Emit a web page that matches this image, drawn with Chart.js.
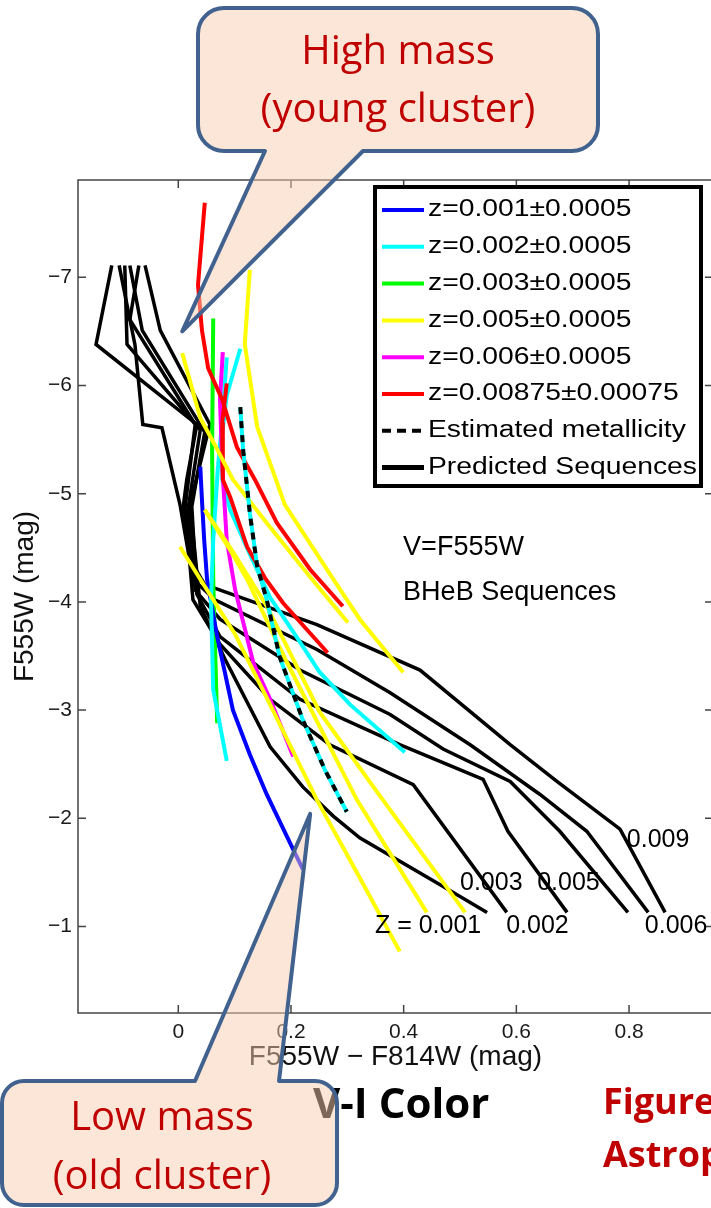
<!DOCTYPE html>
<html>
<head>
<meta charset="utf-8">
<script src="https://cdn.jsdelivr.net/npm/chart.js@4.4.1/dist/chart.umd.min.js"></script>
<style>
  html, body { margin: 0; padding: 0; background: #fff; overflow: hidden; width: 711px; height: 1208px; }
  #wrap { position: absolute; left: 0; top: 0; width: 730px; height: 1208px; }
</style>
</head>
<body>
<div id="wrap"><canvas id="cmd" width="730" height="1208"></canvas></div>
<script>
// axis ticks
const xTickValues = [0, 0.2, 0.4, 0.6, 0.8];
const yTickValues = [-7, -6, -5, -4, -3, -2, -1];

// legend
const legendLabels = [
  'z=0.001\u00b10.0005',
  'z=0.002\u00b10.0005',
  'z=0.003\u00b10.0005',
  'z=0.005\u00b10.0005',
  'z=0.006\u00b10.0005',
  'z=0.00875\u00b10.00075',
  'Estimated metallicity',
  'Predicted Sequences'
];
const legendColors = ['#0000ff', '#00ffff', '#00ff00', '#ffff00', '#ff00ff', '#ff0000', '#000000', '#000000'];

// observed BHeB sequences, [colour, magnitude]
const obsZ001 = [[0.039,-5.25],[0.042,-4.94],[0.046,-4.57],[0.051,-4.21],[0.069,-3.68],[0.097,-3.00],[0.127,-2.59],[0.157,-2.22],[0.204,-1.71],[0.221,-1.53]];
const obsZ002a = [[0.110,-6.34],[0.086,-5.91],[0.078,-5.56],[0.078,-5.13],[0.092,-4.85],[0.127,-4.44],[0.163,-4.04],[0.207,-3.70],[0.251,-3.35],[0.305,-3.05],[0.402,-2.61]];
const obsZ002b = [[0.086,-6.26],[0.078,-5.68],[0.070,-5.22],[0.062,-4.57],[0.058,-4.02],[0.062,-3.19],[0.086,-2.53]];
const obsZ003 = [[0.062,-6.62],[0.060,-5.41],[0.062,-4.21],[0.069,-2.88]];
const obsZ005a = [[0.127,-7.07],[0.118,-6.38],[0.140,-5.62],[0.189,-4.90],[0.275,-4.21],[0.322,-3.84],[0.399,-3.35]];
const obsZ005b = [[0.007,-6.30],[0.039,-5.70],[0.065,-5.45],[0.097,-5.13],[0.157,-4.73],[0.234,-4.23],[0.301,-3.81]];
const obsZ005c = [[0.047,-4.85],[0.092,-4.48],[0.122,-4.21],[0.193,-3.44],[0.317,-2.17],[0.441,-1.13]];
const obsZ005d = [[0.003,-4.51],[0.039,-4.21],[0.101,-3.70],[0.163,-3.05],[0.246,-2.17],[0.322,-1.45],[0.393,-0.77]];
const obsZ005e = [[0.047,-4.85],[0.095,-4.48],[0.157,-3.96],[0.251,-2.98],[0.363,-2.17],[0.509,-1.13]];
const obsZ006 = [[0.079,-6.31],[0.074,-5.87],[0.078,-5.25],[0.086,-4.57],[0.101,-4.11],[0.133,-3.44],[0.163,-3.10],[0.204,-2.57]];
const obsZ00875a = [[0.047,-7.69],[0.035,-6.93],[0.042,-6.51],[0.053,-6.16],[0.078,-5.87],[0.104,-5.43],[0.136,-5.13],[0.175,-4.73],[0.234,-4.30],[0.292,-3.96]];
const obsZ00875b = [[0.086,-6.02],[0.078,-5.66],[0.079,-5.13],[0.092,-4.97],[0.122,-4.51],[0.154,-4.22],[0.186,-3.99],[0.265,-3.53]];
const estimated = [[0.110,-5.80],[0.115,-5.41],[0.127,-4.82],[0.140,-4.33],[0.157,-4.02],[0.180,-3.49],[0.221,-2.91],[0.260,-2.45],[0.299,-2.06]];

// predicted sequences
const pred009 = [[-0.118,-7.11],[-0.146,-6.38],[0.033,-5.64],[0.015,-5.13],[0.008,-4.85],[0.021,-4.39],[0.047,-4.16],[0.246,-3.79],[0.429,-3.37],[0.589,-2.68],[0.672,-2.34],[0.784,-1.90],[0.864,-1.13]];
const pred006 = [[-0.105,-7.11],[-0.077,-6.38],[-0.063,-5.64],[-0.029,-5.61],[0.003,-4.90],[0.026,-4.21],[0.065,-4.02],[0.246,-3.56],[0.376,-3.16],[0.518,-2.68],[0.642,-2.22],[0.725,-1.88],[0.834,-1.13]];
const pred005 = [[-0.095,-7.11],[-0.091,-6.38],[0.039,-5.59],[0.017,-4.85],[0.030,-4.11],[0.074,-3.84],[0.216,-3.37],[0.376,-2.96],[0.470,-2.64],[0.589,-2.34],[0.677,-1.88],[0.798,-1.13]];
const pred003 = [[-0.086,-7.11],[-0.064,-6.51],[0.047,-5.57],[0.024,-4.88],[0.033,-4.07],[0.074,-3.68],[0.216,-3.10],[0.393,-2.68],[0.541,-2.36],[0.585,-1.88],[0.690,-1.13]];
const pred002 = [[-0.070,-7.11],[-0.086,-6.61],[0.030,-5.64],[0.012,-4.87],[0.026,-4.02],[0.074,-3.61],[0.163,-3.10],[0.269,-2.68],[0.417,-2.31],[0.583,-1.13]];
const pred001 = [[-0.059,-7.11],[-0.032,-6.51],[0.056,-5.64],[0.021,-4.90],[0.039,-3.96],[0.083,-3.47],[0.163,-2.66],[0.221,-2.29],[0.275,-2.02],[0.322,-1.82],[0.470,-1.37],[0.548,-1.13]];

// metallicity labels at the end of the predicted sequences
const seqLabels = ['0.009', '0.003', '0.005', 'Z = 0.001', '0.002', '0.006'];
const seqLabelX = [0.796, 0.500, 0.637, 0.349, 0.582, 0.828];
const seqLabelY = [-1.80, -1.40, -1.40, -1.00, -1.00, -1.00];

// callout tips, in data units
const youngTip = [0.007, -6.50];
const oldTip = [0.234, -2.04];

const fmtTick = v => String(Math.round(v * 10) / 10).replace('-', '\u2212');

function series(points, color, width, dash) {
  return {
    data: points.map(p => ({ x: p[0], y: p[1] })),
    borderColor: color,
    borderWidth: width,
    borderDash: dash || [],
    showLine: true,
    pointRadius: 0,
    fill: false,
    tension: 0
  };
}

const datasets = [
  series(estimated, '#000000', 4, [7, 7]),
  series(estimated, '#00ffff', 4),
  series(obsZ005a, '#ffff00', 4),
  series(obsZ005b, '#ffff00', 4),
  series(obsZ005c, '#ffff00', 4),
  series(obsZ005d, '#ffff00', 4),
  series(obsZ005e, '#ffff00', 4),
  series(obsZ00875a, '#ff0000', 4),
  series(obsZ00875b, '#ff0000', 4),
  series(obsZ006, '#ff00ff', 4),
  series(obsZ002a, '#00ffff', 4),
  series(obsZ002b, '#00ffff', 4),
  series(obsZ001, '#0000ff', 4),
  series(obsZ003, '#00ff00', 4),
  series(pred009, '#000000', 3.5),
  series(pred006, '#000000', 3.5),
  series(pred005, '#000000', 3.5),
  series(pred003, '#000000', 3.5),
  series(pred002, '#000000', 3.5),
  series(pred001, '#000000', 3.5)
];

// box round the plot, with inward tick marks on all four sides
const framePlugin = {
  id: 'frame',
  beforeDatasetsDraw(chart) {
    const { ctx, chartArea: a, scales: { x, y } } = chart;
    ctx.save();
    ctx.strokeStyle = '#444';
    ctx.lineWidth = 1.5;
    ctx.strokeRect(a.left, a.top, a.right - a.left, a.bottom - a.top);
    ctx.beginPath();
    xTickValues.forEach(v => {
      const px = x.getPixelForValue(v);
      ctx.moveTo(px, a.bottom); ctx.lineTo(px, a.bottom - 8);
      ctx.moveTo(px, a.top); ctx.lineTo(px, a.top + 8);
    });
    yTickValues.forEach(v => {
      const py = y.getPixelForValue(v);
      ctx.moveTo(a.left, py); ctx.lineTo(a.left + 8, py);
      ctx.moveTo(a.right, py); ctx.lineTo(a.right - 8, py);
    });
    ctx.stroke();
    ctx.restore();
  }
};

// legend box and in-plot labels
const legendPlugin = {
  id: 'boxLegend',
  afterDatasetsDraw(chart) {
    const { ctx, scales: { x, y } } = chart;
    ctx.save();
    ctx.fillStyle = '#fff';
    ctx.fillRect(375, 187, 326, 299);
    ctx.lineWidth = 4;
    ctx.strokeStyle = '#000';
    ctx.strokeRect(375, 187, 326, 299);
    legendLabels.forEach((txt, i) => {
      const yy = 210 + i * 36.8;
      ctx.beginPath();
      ctx.setLineDash(i === 6 ? [9, 6] : []);
      ctx.lineWidth = i === 7 ? 5 : 4;
      ctx.strokeStyle = legendColors[i];
      ctx.moveTo(382, yy);
      ctx.lineTo(424, yy);
      ctx.stroke();
      ctx.setLineDash([]);
      ctx.save();
      ctx.translate(428, yy);
      ctx.scale(1.23, 1);
      ctx.font = '23px "Liberation Sans", Arial, sans-serif';
      ctx.fillStyle = '#000';
      ctx.textBaseline = 'middle';
      ctx.fillText(txt, 0, 0);
      ctx.restore();
    });

    ctx.fillStyle = '#000';
    ctx.textBaseline = 'middle';
    ctx.font = '27px "Liberation Sans", Arial, sans-serif';
    ctx.fillText('V=F555W', x.getPixelForValue(0.399), y.getPixelForValue(-4.50));
    ctx.fillText('BHeB Sequences', x.getPixelForValue(0.399), y.getPixelForValue(-4.09));

    ctx.font = '25px "Liberation Sans", Arial, sans-serif';
    seqLabels.forEach((t, i) => {
      ctx.fillText(t, x.getPixelForValue(seqLabelX[i]), y.getPixelForValue(seqLabelY[i]));
    });
    ctx.restore();
  }
};

function callout(ctx, x0, y0, x1, y1, r, tailOnTop, baseA, baseB, tip) {
  ctx.beginPath();
  ctx.moveTo(x0 + r, y0);
  if (tailOnTop) {
    ctx.lineTo(baseA, y0);
    ctx.lineTo(tip[0], tip[1]);
    ctx.lineTo(baseB, y0);
  }
  ctx.arcTo(x1, y0, x1, y1, r);
  ctx.arcTo(x1, y1, x0, y1, r);
  if (!tailOnTop) {
    ctx.lineTo(baseB, y1);
    ctx.lineTo(tip[0], tip[1]);
    ctx.lineTo(baseA, y1);
  }
  ctx.arcTo(x0, y1, x0, y0, r);
  ctx.arcTo(x0, y0, x1, y0, r);
  ctx.closePath();
  ctx.fillStyle = 'rgba(247, 206, 178, 0.5)';
  ctx.fill();
  ctx.lineWidth = 4;
  ctx.lineJoin = 'round';
  ctx.strokeStyle = '#41628e';
  ctx.stroke();
}

// slide annotations drawn over the figure
const notesPlugin = {
  id: 'notes',
  afterDraw(chart) {
    const { ctx, scales: { x, y } } = chart;
    ctx.save();
    ctx.textBaseline = 'middle';
    ctx.fillStyle = '#000';
    ctx.font = 'bold 42px "Open Sans", sans-serif';
    ctx.fillText('V-I Color', 313, 1106);
    ctx.fillStyle = '#c00000';
    ctx.font = 'bold 36px "Open Sans", sans-serif';
    ctx.fillText('Figure', 603, 1104);
    ctx.fillText('Astrophysical', 603, 1157);

    const tipTop = [x.getPixelForValue(youngTip[0]), y.getPixelForValue(youngTip[1])];
    const tipBottom = [x.getPixelForValue(oldTip[0]), y.getPixelForValue(oldTip[1])];
    callout(ctx, 198, 8, 598, 151, 26, false, 265, 363, tipTop);
    callout(ctx, 2, 1081, 337, 1205, 22, true, 195, 279, tipBottom);

    ctx.fillStyle = '#c00000';
    ctx.textAlign = 'center';
    ctx.font = '40px "Open Sans", sans-serif';
    ctx.fillText('High mass', 398, 53);
    ctx.fillText('(young cluster)', 398, 111);
    ctx.fillText('Low mass', 162, 1119);
    ctx.fillText('(old cluster)', 162, 1178);
    ctx.restore();
  }
};

Chart.defaults.font.family = '"Liberation Sans", Arial, sans-serif';
Chart.defaults.color = '#1a1a1a';

new Chart(document.getElementById('cmd'), {
  type: 'scatter',
  data: { datasets: datasets },
  options: {
    responsive: false,
    devicePixelRatio: 1,
    animation: false,
    layout: { padding: { left: 0, top: 180, right: 17, bottom: 120 } },
    plugins: { legend: { display: false }, tooltip: { enabled: false } },
    scales: {
      x: {
        type: 'linear',
        min: -0.178,
        max: 0.949,
        afterBuildTicks: s => { s.ticks = xTickValues.map(v => ({ value: v })); },
        afterFit: s => { s.height = 75; },
        grid: { display: false, drawTicks: false },
        border: { display: false },
        ticks: { font: { size: 21 }, padding: 7, callback: fmtTick },
        title: { display: true, text: 'F555W \u2212 F814W (mag)', font: { size: 28 }, color: '#111', padding: { top: 0, bottom: 14 } }
      },
      y: {
        type: 'linear',
        min: -7.9,
        max: -0.2,
        reverse: true,
        afterBuildTicks: s => { s.ticks = yTickValues.map(v => ({ value: v })); },
        afterFit: s => { s.width = 78; },
        grid: { display: false, drawTicks: false },
        border: { display: false },
        ticks: { font: { size: 21 }, padding: 6, callback: fmtTick },
        title: { display: true, text: 'F555W (mag)', font: { size: 28 }, color: '#111', padding: { top: 8, bottom: 0 } }
      }
    }
  },
  plugins: [framePlugin, legendPlugin, notesPlugin]
});
</script>
</body>
</html>
